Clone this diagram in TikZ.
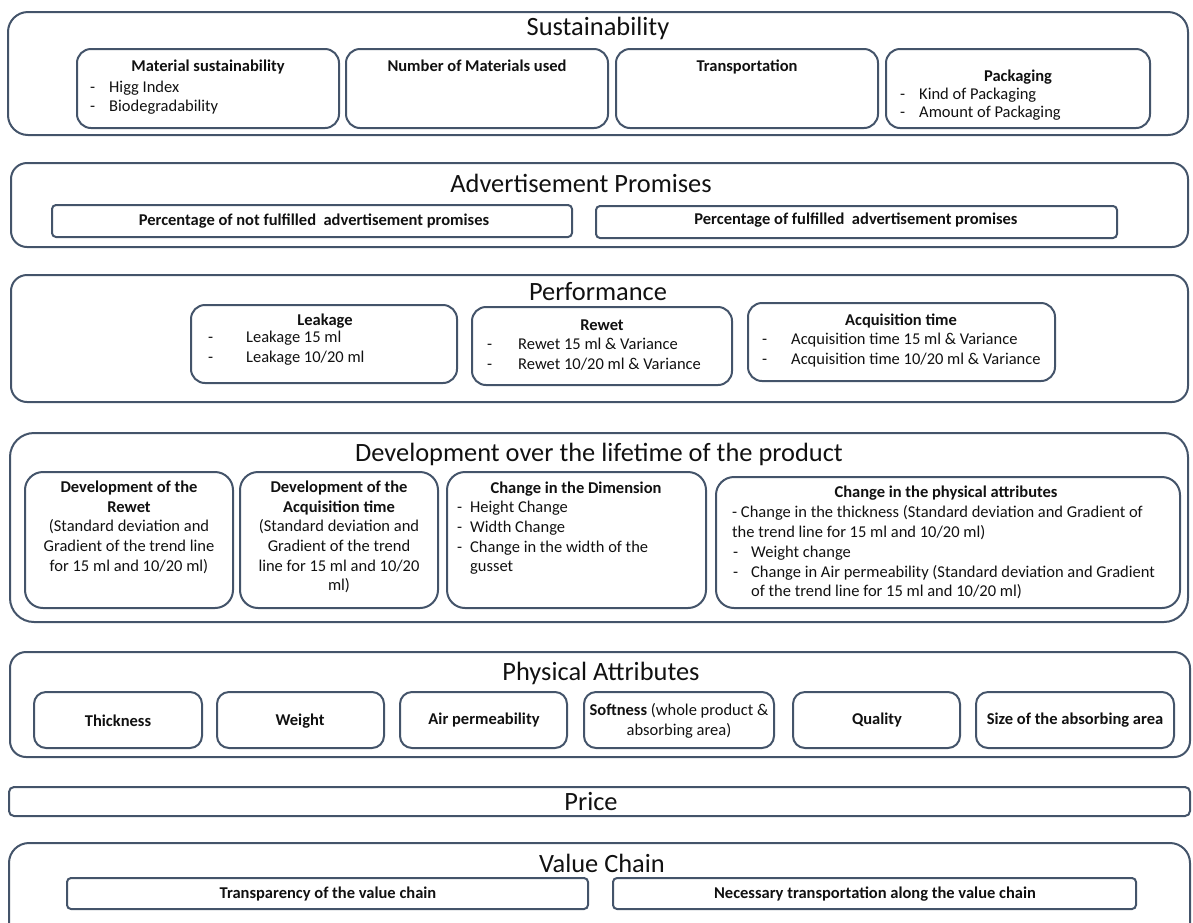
\documentclass[tikz,border=0pt]{standalone}
\usepackage{fontspec}
\setmainfont{Carlito}
\definecolor{bc}{HTML}{44546A}
\definecolor{tc}{HTML}{111111}
\newcommand\rbox[6]{\node[bx,rounded corners=#6,minimum width={(#4)-(#2)},minimum height={(#5)-(#3)}] (#1) at ({((#2)+(#4))/2},{((#3)+(#5))/2}) {};}
\tikzset{
  bx/.style={draw=bc,line width=2pt,inner sep=0pt,outer sep=0pt},
  ttl/.style={inner sep=0pt,text=tc,font=\fontsize{26.4}{30}\selectfont,text height=18pt,text depth=5pt,yshift=-2pt},
  sb/.style={inner sep=0pt,text=tc,font=\fontsize{16.5}{19.6}\selectfont\bfseries,text height=11.5pt,text depth=3.3pt},
  tx/.style={inner sep=0pt,text=tc,font=\fontsize{16.5}{19.6}\selectfont,text height=11.5pt,text depth=3.3pt},
  lt/.style={tx,anchor=west}
}
\newcommand\dsh[1]{\makebox[#1][l]{-}}
\begin{document}
\begin{tikzpicture}[x=1pt,y=-1pt]
\useasboundingbox (0,0) rectangle (1193,922);
\clip (0,0) rectangle (1193,922);
% ---------- Sustainability
\rbox{sus}{8}{12}{1188}{135}{20pt}
\node[ttl] (sust) at (598,27) {Sustainability};
\rbox{sA}{77}{49}{339}{128}{14pt}
\rbox{sB}{346}{49}{608}{128}{14pt}
\rbox{sC}{616}{49}{878}{128}{14pt}
\rbox{sD}{886}{49}{1150}{128}{14pt}
\node[sb] (sAt) at (208,67) {Material sustainability};
\node[lt] (sA1) at (90,88) {\dsh{19pt}Higg Index};
\node[lt] (sA2) at (90,107) {\dsh{19pt}Biodegradability};
\node[sb] (sBt) at (477,67) {Number of Materials used};
\node[sb] (sCt) at (747,67) {Transportation};
\node[sb] (sDt) at (1018,77) {Packaging};
\node[lt] (sD1) at (900,95) {\dsh{19pt}Kind of Packaging};
\node[lt] (sD2) at (900,113) {\dsh{19pt}Amount of Packaging};
% ---------- Advertisement
\rbox{adv}{11}{163}{1188}{247}{16pt}
\node[ttl] (advt) at (581,184) {Advertisement Promises};
\rbox{aA}{52}{205}{572}{237}{4pt}
\rbox{aB}{596}{206}{1117}{238}{4pt}
\node[sb] (aAt) at (314,221) {Percentage of not fulfilled\ \ advertisement promises};
\node[sb] (aBt) at (856,220) {Percentage of fulfilled\ \ advertisement promises};
% ---------- Performance
\rbox{per}{11}{275}{1188}{402}{16pt}
\node[ttl] (pert) at (598,292) {Performance};
\rbox{pA}{191}{305}{457}{383}{14pt}
\rbox{pB}{472}{307}{732}{385}{14pt}
\rbox{pC}{748}{303}{1055}{381}{14pt}
\node[sb] (pAt) at (325,321) {Leakage};
\node[lt] (pA1) at (208,338) {\dsh{38pt}Leakage 15 ml};
\node[lt] (pA2) at (208,358) {\dsh{38pt}Leakage 10/20 ml};
\node[sb] (pBt) at (602,326) {Rewet};
\node[lt] (pB1) at (487,345) {\dsh{31pt}Rewet 15 ml \& Variance};
\node[lt] (pB2) at (487,365) {\dsh{31pt}Rewet 10/20 ml \& Variance};
\node[sb] (pCt) at (901,321) {Acquisition time};
\node[lt] (pC1) at (762,340) {\dsh{29pt}Acquisition time 15 ml \& Variance};
\node[lt] (pC2) at (762,360) {\dsh{29pt}Acquisition time 10/20 ml \& Variance};
% ---------- Development
\rbox{dev}{10}{433}{1188}{622}{24pt}
\node[ttl] (devt) at (599,453) {Development over the lifetime of the product};
\rbox{dA}{25}{472}{233}{608}{18pt}
\rbox{dB}{240}{472}{438}{608}{18pt}
\rbox{dC}{447}{472}{706}{608}{18pt}
\rbox{dD}{716}{477}{1180}{608}{18pt}
\node[sb] (dA1) at (129,488) {Development of the};
\node[sb] (dA2) at (129,508) {Rewet};
\node[tx] (dA3) at (129,527) {(Standard deviation and};
\node[tx] (dA4) at (129,547) {Gradient of the trend line};
\node[tx] (dA5) at (129,567) {for 15 ml and 10/20 ml)};
\node[sb] (dB1) at (339,488) {Development of the};
\node[sb] (dB2) at (339,508) {Acquisition time};
\node[tx] (dB3) at (339,527) {(Standard deviation and};
\node[tx] (dB4) at (339,547) {Gradient of the trend};
\node[tx] (dB5) at (339,567) {line for 15 ml and 10/20};
\node[tx] (dB6) at (339,586) {ml)};
\node[sb] (dC1) at (576,489) {Change in the Dimension};
\node[lt] (dC2) at (457,508) {\dsh{13pt}Height Change};
\node[lt] (dC3) at (457,528) {\dsh{13pt}Width Change};
\node[lt] (dC4) at (457,548) {\dsh{13pt}Change in the width of the};
\node[lt] (dC5) at (470,567) {gusset};
\node[sb] (dD1) at (946,493) {Change in the physical attributes};
\node[lt] (dD2) at (732,513) {- Change in the thickness (Standard deviation and Gradient of};
\node[lt] (dD3) at (732,533) {the trend line for 15 ml and 10/20 ml)};
\node[lt] (dD4) at (733,553) {\dsh{18pt}Weight change};
\node[lt] (dD5) at (733,573) {\dsh{18pt}Change in Air permeability (Standard deviation and Gradient};
\node[lt] (dD6) at (751,592) {of the trend line for 15 ml and 10/20 ml)};
% ---------- Physical Attributes
\rbox{phy}{10}{652}{1190}{757}{16pt}
\node[ttl] (phyt) at (601,672) {Physical Attributes};
\rbox{hA}{34}{692}{202}{748}{12pt}
\rbox{hB}{217}{692}{384}{748}{12pt}
\rbox{hC}{400}{692}{567}{748}{12pt}
\rbox{hD}{584}{692}{774}{748}{12pt}
\rbox{hE}{793}{692}{960}{748}{12pt}
\rbox{hF}{976}{692}{1174}{748}{12pt}
\node[sb] (hAt) at (118,722) {Thickness};
\node[sb] (hBt) at (300,721) {Weight};
\node[sb] (hCt) at (484,720) {Air permeability};
\node[tx] (hDt) at (679,711) {\textbf{Softness} (whole product \&};
\node[tx] (hDu) at (679,731) {absorbing area)};
\node[sb] (hEt) at (877,720) {Quality};
\node[sb] (hFt) at (1075,720) {Size of the absorbing area};
% ---------- Price
\rbox{pri}{9}{787}{1190}{816}{5pt}
\node[ttl] (prit) at (591,802) {Price};
% ---------- Value Chain
\rbox{val}{9}{843}{1190}{945}{20pt}
\node[ttl] (valt) at (602,864) {Value Chain};
\rbox{vA}{67}{878}{588}{909}{4pt}
\rbox{vB}{613}{878}{1136}{909}{4pt}
\node[sb] (vAt) at (328,894) {Transparency of the value chain};
\node[sb] (vBt) at (875,894) {Necessary transportation along the value chain};
\end{tikzpicture}
\end{document}
